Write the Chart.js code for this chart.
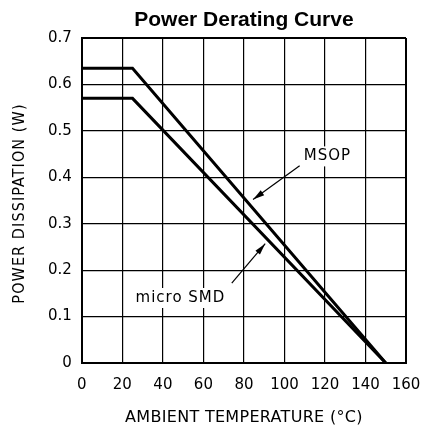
<!DOCTYPE html>
<html><head><meta charset="utf-8">
<script src="https://cdn.jsdelivr.net/npm/chart.js@4"></script>
<style>html,body{margin:0;padding:0;background:#fff}#w{width:423px;height:430px}</style>
</head><body><div id="w"><canvas id="c"></canvas></div>
<script>
const tempX = [0, 25, 150];
const msopY = [0.635, 0.635, 0];
const microSmdY = [0.57, 0.57, 0];
const xTicks = [0, 20, 40, 60, 80, 100, 120, 140, 160];
const yTicks = [0, 0.1, 0.2, 0.3, 0.4, 0.5, 0.6, 0.7];
const chartTitle = 'Power Derating Curve';
const xTitle = 'AMBIENT TEMPERATURE (°C)';
const yTitle = 'POWER DISSIPATION (W)';
const labels = [
  {text: 'MSOP', x: 109.5, y: 0.445, tail: [107.5, 0.425], head: [84.5, 0.352]},
  {text: 'micro SMD', x: 26.5, y: 0.14, tail: [74, 0.172], head: [90.5, 0.257]}
];
const strokeFont = '"DejaVu Sans ExtraLight", "DejaVu Sans", sans-serif';
const condFont = '"DejaVu Sans Condensed", "DejaVu Sans", sans-serif';

const annot = {
  id: 'annot',
  afterDraw(chart) {
    const ctx = chart.ctx, xs = chart.scales.x, ys = chart.scales.y, ca = chart.chartArea;
    const cx = (ca.left + ca.right) / 2;
    ctx.save();
    ctx.fillStyle = '#000'; ctx.strokeStyle = '#000';
    ctx.textBaseline = 'middle';
    ctx.textAlign = 'center';
    // chart title
    ctx.font = 'bold 21px "Liberation Sans", Arial, sans-serif';
    ctx.fillText(chartTitle, cx, 20);
    // axis titles
    ctx.font = '16px ' + strokeFont;
    ctx.letterSpacing = '0.3px';
    ctx.fillText(xTitle, cx, 418);
    ctx.save();
    ctx.translate(20, (ca.top + ca.bottom) / 2 + 3);
    ctx.rotate(-Math.PI / 2);
    ctx.font = '16px ' + condFont;
    ctx.letterSpacing = '1.1px';
    ctx.fillText(yTitle, 0, 0);
    ctx.restore();
    ctx.textAlign = 'left';
    ctx.font = '15px ' + strokeFont;
    ctx.letterSpacing = '1px';
    labels.forEach(l => {
      const tx = xs.getPixelForValue(l.x), ty = ys.getPixelForValue(l.y);
      const w = ctx.measureText(l.text).width;
      ctx.fillStyle = '#fff';
      ctx.fillRect(tx - 3, ty - 10, w + 6, 20);
      ctx.fillStyle = '#000';
      ctx.fillText(l.text, tx, ty);
      const x1 = xs.getPixelForValue(l.tail[0]), y1 = ys.getPixelForValue(l.tail[1]);
      const x2 = xs.getPixelForValue(l.head[0]), y2 = ys.getPixelForValue(l.head[1]);
      ctx.lineWidth = 1.2;
      ctx.beginPath(); ctx.moveTo(x1, y1); ctx.lineTo(x2, y2); ctx.stroke();
      const a = Math.atan2(y2 - y1, x2 - x1), L = 12, s = 0.25;
      ctx.beginPath();
      ctx.moveTo(x2, y2);
      ctx.lineTo(x2 - L * Math.cos(a - s), y2 - L * Math.sin(a - s));
      ctx.lineTo(x2 - L * Math.cos(a + s), y2 - L * Math.sin(a + s));
      ctx.closePath(); ctx.fill();
    });
    ctx.restore();
  }
};

const edgeW = (c) => (c.index === 0 || c.index === c.chart.scales[c.scale.id].ticks.length - 1) ? 2 : 1.2;
const tickFont = {family: '"DejaVu Sans", sans-serif', size: 15};

new Chart(document.getElementById('c'), {
  type: 'scatter',
  data: {
    datasets: [
      {label: 'MSOP', data: tempX.map((x, i) => ({x, y: msopY[i]})), showLine: true, borderColor: '#000', borderWidth: 3, pointRadius: 0, fill: false},
      {label: 'micro SMD', data: tempX.map((x, i) => ({x, y: microSmdY[i]})), showLine: true, borderColor: '#000', borderWidth: 3, pointRadius: 0, fill: false}
    ]
  },
  options: {
    responsive: true, maintainAspectRatio: false, animation: false,
    layout: {padding: {left: 38, right: 0, top: 38, bottom: 23}},
    plugins: {legend: {display: false}, tooltip: {enabled: false}, title: {display: false}},
    scales: {
      x: {
        type: 'linear', min: 0, max: 160,
        afterBuildTicks: (s) => { s.ticks = xTicks.map(v => ({value: v})); },
        afterFit: (s) => { s.paddingRight = 17; s.paddingLeft = 6; },
        ticks: {color: '#000', padding: 13, maxRotation: 0, font: tickFont},
        grid: {color: '#000', lineWidth: edgeW, drawTicks: false},
        border: {color: '#000', width: 2}
      },
      y: {
        type: 'linear', min: 0, max: 0.7,
        afterBuildTicks: (s) => { s.ticks = yTicks.map(v => ({value: v})); },
        ticks: {color: '#000', padding: 10, callback: (v) => v === 0 ? '0' : v.toFixed(1), font: tickFont},
        grid: {color: '#000', lineWidth: edgeW, drawTicks: false},
        border: {color: '#000', width: 2}
      }
    }
  },
  plugins: [annot]
});
</script></body></html>
